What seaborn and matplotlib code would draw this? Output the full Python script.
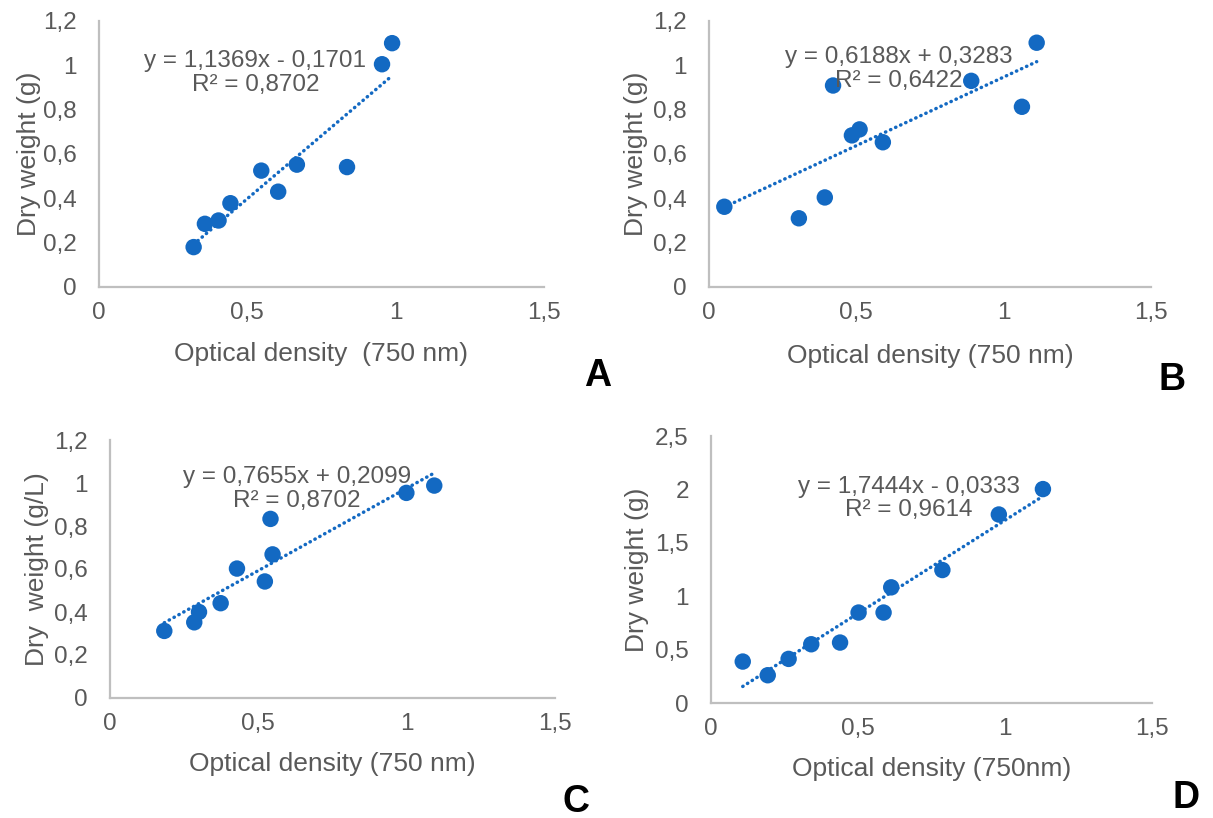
import matplotlib
matplotlib.use("Agg")
import matplotlib.pyplot as plt
import seaborn as sns
import numpy as np
import pandas as pd

# ---------------- data ----------------
A_x = [0.319, 0.357, 0.403, 0.443, 0.547, 0.604, 0.667, 0.836, 0.954, 0.988]
A_y = [0.180, 0.285, 0.300, 0.378, 0.525, 0.430, 0.552, 0.541, 1.005, 1.100]
B_x = [0.052, 0.305, 0.393, 0.421, 0.485, 0.511, 0.590, 0.890, 1.062, 1.112]
B_y = [0.362, 0.310, 0.404, 0.909, 0.684, 0.711, 0.653, 0.930, 0.813, 1.102]
C_x = [0.183, 0.284, 0.300, 0.373, 0.428, 0.522, 0.541, 0.548, 0.999, 1.093]
C_y = [0.312, 0.352, 0.400, 0.441, 0.602, 0.542, 0.833, 0.668, 0.954, 0.988]
D_x = [0.108, 0.193, 0.264, 0.341, 0.439, 0.502, 0.587, 0.613, 0.787, 0.979, 1.129]
D_y = [0.388, 0.260, 0.413, 0.550, 0.566, 0.847, 0.847, 1.083, 1.245, 1.765, 2.003]

slopes = [1.1369, 0.6188, 0.7655, 1.7444]
intercepts = [-0.1701, 0.3283, 0.2099, -0.0333]
eq_texts = ["y = 1,1369x - 0,1701\nR² = 0,8702",
            "y = 0,6188x + 0,3283\nR² = 0,6422",
            "y = 0,7655x + 0,2099\nR² = 0,8702",
            "y = 1,7444x - 0,0333\nR² = 0,9614"]
x_labels = ["Optical density  (750 nm)", "Optical density (750 nm)",
            "Optical density (750 nm)", "Optical density (750nm)"]
y_labels = ["Dry weight (g)", "Dry weight (g)", "Dry  weight (g/L)", "Dry weight (g)"]
panel_letters = ["A", "B", "C", "D"]
x_ticks = [0, 0.5, 1, 1.5]
x_tick_labels = ["0", "0,5", "1", "1,5"]
y_ticks_small = [0, 0.2, 0.4, 0.6, 0.8, 1.0, 1.2]
y_tick_labels_small = ["0", "0,2", "0,4", "0,6", "0,8", "1", "1,2"]
y_ticks_big = [0, 0.5, 1.0, 1.5, 2.0, 2.5]
y_tick_labels_big = ["0", "0,5", "1", "1,5", "2", "2,5"]

# ---------------- style ----------------
sns.set_theme(style="white")
plt.rcParams['font.family'] = ['Liberation Sans', 'DejaVu Sans']

BLUE = "#1369C2"
GRAY_TXT = "#595959"
SPINE = "#BFBFBF"

W, H = 1213, 818
fig = plt.figure(figsize=(W / 100, H / 100), dpi=100)

# axes rectangles from pixel boxes (left, right, top, bottom)
boxes = [(99, 544, 21, 287), (709, 1151, 21, 287),
         (110, 555, 440, 698), (711, 1152, 436, 703)]
eq_pos = [(0.527, 0.964), (0.644, 0.983), (0.629, 0.972), (0.672, 1.915)]
letter_pos = [(598, 376), (1172, 380), (576, 802), (1186, 798)]
ylabel_x = [-0.158, -0.166, -0.165, -0.167]
xlabel_y = [-0.252, -0.259, -0.256, -0.248]

datasets = [(A_x, A_y), (B_x, B_y), (C_x, C_y), (D_x, D_y)]

for i, (xs, ys) in enumerate(datasets):
    l, r, t, b = boxes[i]
    ax = fig.add_axes([l / W, 1 - b / H, (r - l) / W, (b - t) / H])
    df = pd.DataFrame({"x": xs, "y": ys})
    # trendline
    xr = np.array([min(xs), max(xs)])
    tl = pd.DataFrame({"x": xr, "y": slopes[i] * xr + intercepts[i]})
    sns.lineplot(data=tl, x="x", y="y", ax=ax, color=BLUE, linewidth=2.5,
                 linestyle=(0, (0.1, 1.5)), dash_capstyle="round", zorder=2)
    sns.scatterplot(data=df, x="x", y="y", ax=ax, color=BLUE, s=140,
                    edgecolor="none", linewidth=0, zorder=3)

    ax.set_xlim(0, 1.5)
    ax.set_xticks(x_ticks)
    ax.set_xticklabels(x_tick_labels)
    if i == 3:
        ax.set_ylim(0, 2.5)
        ax.set_yticks(y_ticks_big)
        ax.set_yticklabels(y_tick_labels_big)
    else:
        ax.set_ylim(0, 1.2)
        ax.set_yticks(y_ticks_small)
        ax.set_yticklabels(y_tick_labels_small)

    for s in ["top", "right"]:
        ax.spines[s].set_visible(False)
    for s in ["left", "bottom"]:
        ax.spines[s].set_color(SPINE)
        ax.spines[s].set_linewidth(1.6)
    ax.tick_params(axis="both", length=0, labelsize=17.5, labelcolor=GRAY_TXT)
    ax.tick_params(axis="x", pad=11)
    ax.tick_params(axis="y", pad=16)
    ax.set_xlabel(x_labels[i], fontsize=19, color=GRAY_TXT, va="center")
    ax.set_ylabel(y_labels[i], fontsize=19, color=GRAY_TXT, va="center")
    ax.xaxis.set_label_coords(0.5, xlabel_y[i])
    ax.yaxis.set_label_coords(ylabel_x[i], 0.5)
    ax.patch.set_alpha(0)

    ex, ey = eq_pos[i]
    ax.text(ex, ey, eq_texts[i], ha="center", va="center", multialignment="center",
            fontsize=17.5, color=GRAY_TXT, linespacing=1.1, zorder=4)

    lx, ly = letter_pos[i]
    fig.text(lx / W, 1 - ly / H, panel_letters[i], ha="center", va="center",
             fontsize=27, fontweight="bold", color="black")

fig.savefig("out.png", dpi=100, facecolor="white")
